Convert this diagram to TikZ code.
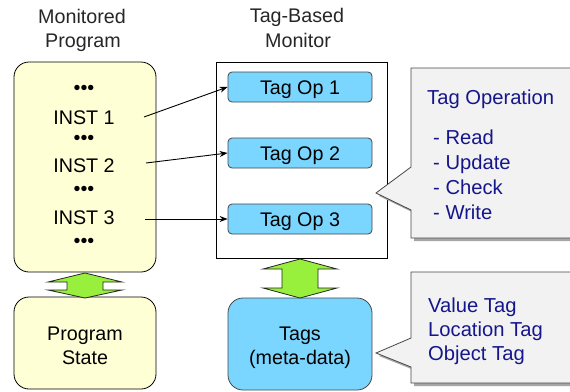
\documentclass[tikz,border=0pt]{standalone}
\usepackage{fontspec}
\setmainfont{Liberation Sans}
\usetikzlibrary{arrows.meta,calc}

\definecolor{cream}{RGB}{255,255,214}
\definecolor{lime}{RGB}{153,240,60}
\definecolor{skyblue}{RGB}{122,214,255}
\definecolor{notegray}{RGB}{242,242,242}
\definecolor{navytext}{RGB}{22,22,140}
\definecolor{edgegray}{RGB}{70,70,70}

\tikzset{
  lbl/.style={inner sep=0pt, anchor=base},
  heading/.style={lbl, text=black!85},
  dots/.style={inner sep=0pt, anchor=center},
  progbox/.style={draw=black, line width=0.8pt, fill=cream, rounded corners=15pt,
    minimum width=142pt, inner sep=0pt},
  monbox/.style={draw=black, line width=0.8pt, fill=white, minimum width=171pt,
    minimum height=196pt, inner sep=0pt},
  opbox/.style={draw=edgegray, line width=0.8pt, fill=skyblue, rounded corners=4pt,
    minimum width=144pt, minimum height=30pt, inner sep=0pt,
    text height=14pt, text depth=0pt},
  tagbox/.style={draw=edgegray, line width=0.8pt, fill=skyblue, rounded corners=15pt,
    minimum width=144pt, minimum height=92pt, inner sep=0pt},
  feed/.style={-{Stealth[length=8pt,width=6pt]}, line width=0.9pt, black},
  link/.style={draw=black!85, line width=0.8pt, fill=lime, line join=miter},
  note/.style={draw=edgegray, line width=0.8pt, fill=notegray},
  noteshadow/.style={fill=black!35},
  notetext/.style={lbl, anchor=base west, text=navytext,
    font=\fontsize{20.2}{25}\selectfont},
}

\begin{document}
\begin{tikzpicture}[x=1pt, y=-1pt, font=\fontsize{19.7}{25}\selectfont]
  \useasboundingbox (0,0) rectangle (570,391);

  % column headings
  \node[heading] (h1a) at (82,23) {Monitored};
  \node[heading] (h1b) at (83,47) {Program};
  \node[heading] (h2a) at (297,22) {Tag-Based};
  \node[heading] (h2b) at (298,47) {Monitor};

  % monitored program and its state
  \node[progbox, minimum height=210pt] (prog) at (85,167) {};
  \node[progbox, minimum height=92pt] (state) at (85,343) {};
  \node[lbl] (stateA) at (85,340) {Program};
  \node[lbl] (stateB) at (85,364) {State};

  \node[dots] (d0) at (84,90) {•••};
  \node[lbl] (inst1) at (84,124) {INST 1};
  \node[dots] (d1) at (84,140) {•••};
  \node[lbl] (inst2) at (84,172) {INST 2};
  \node[dots] (d2) at (84,191) {•••};
  \node[lbl] (inst3) at (84,224) {INST 3};
  \node[dots] (d3) at (84,243) {•••};

  % tag-based monitor
  \node[monbox] (mon) at (301.5,160) {};
  \node[opbox] (op1) at (300,87) {Tag Op 1};
  \node[opbox] (op2) at (300,153) {Tag Op 2};
  \node[opbox] (op3) at (300,219) {Tag Op 3};

  \node[tagbox] (tags) at (300,344) {};
  \node[lbl] (tagsA) at (300,340) {Tags};
  \node[lbl] (tagsB) at (300,364) {(meta-data)};

  % instruction to tag operation links
  \coordinate (s1) at (144,117);
  \coordinate (s2) at (146,163);
  \coordinate (s3) at (145,219);
  \draw[feed] (s1) -- (op1.west);
  \draw[feed] (s2) -- (op2.west);
  \draw[feed] (s3) -- (op3.west);

  % two-way exchange arrows
  \path[link] (85,273) -- (122,282) -- (103,282) -- (103,290) -- (122,290)
    -- (85,298) -- (48,290) -- (67,290) -- (67,282) -- (48,282) -- cycle;
  \path[link] (300,259) -- (337,269) -- (318,269) -- (318,288) -- (337,288)
    -- (300,298) -- (263,288) -- (282,288) -- (282,269) -- (263,269) -- cycle;

  % callout: tag operations
  \fill[noteshadow] (414,71) -- (583,71) -- (583,241) -- (414,241) -- (414,213)
    -- (379,196) -- (414,170) -- cycle;
  \path[note] (411,68) -- (580,68) -- (580,238) -- (411,238) -- (411,210)
    -- (376,193) -- (411,167) -- cycle;
  \node[notetext] (opT) at (427,104) {Tag Operation};
  \node[notetext] (opR) at (433,144) {- Read};
  \node[notetext] (opU) at (433,169) {- Update};
  \node[notetext] (opC) at (433,194) {- Check};
  \node[notetext] (opW) at (433,219) {- Write};

  % callout: kinds of tags
  \fill[noteshadow] (414,275) -- (583,275) -- (583,386) -- (414,386) -- (414,370)
    -- (379,356) -- (414,341) -- cycle;
  \path[note] (411,272) -- (580,272) -- (580,383) -- (411,383) -- (411,367)
    -- (376,353) -- (411,338) -- cycle;
  \node[notetext] (kV) at (428,312) {Value Tag};
  \node[notetext] (kL) at (428,336) {Location Tag};
  \node[notetext] (kO) at (428,360) {Object Tag};
\end{tikzpicture}
\end{document}
